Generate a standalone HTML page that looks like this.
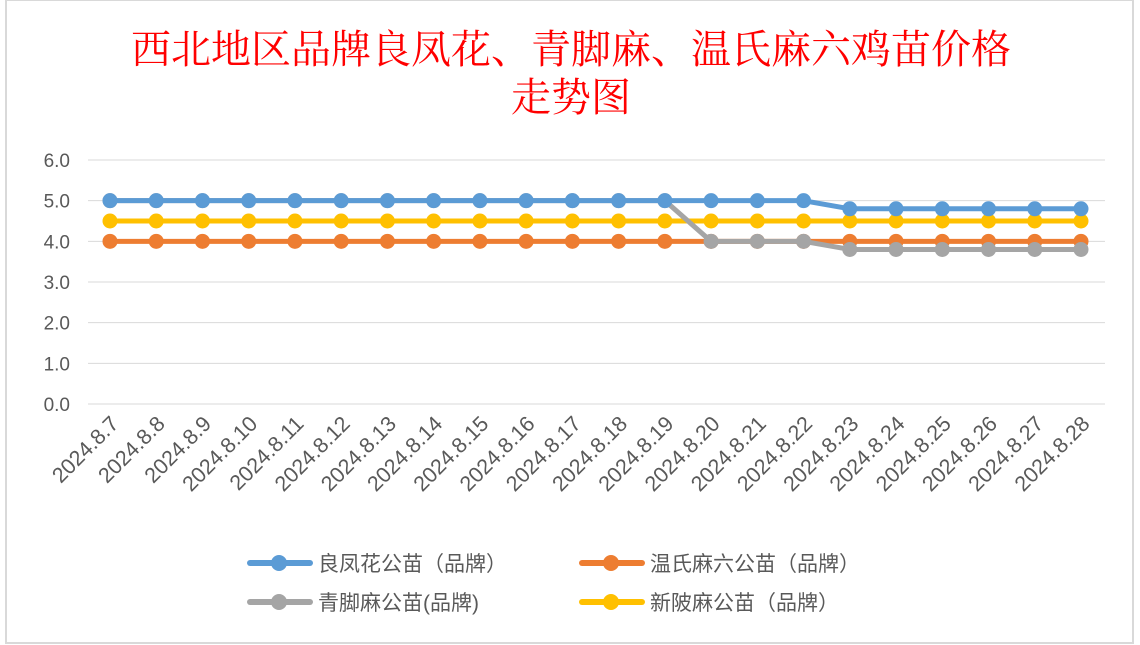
<!DOCTYPE html>
<html><head><meta charset="utf-8"><style>
body{margin:0;background:#fff;width:1140px;height:645px;overflow:hidden}
svg{display:block}
</style></head><body>
<svg width="1140" height="645" font-family="'Liberation Sans','Noto Sans CJK SC',sans-serif">
<rect x="6" y="0" width="1127" height="643" fill="#fff" stroke="#d9d9d9" stroke-width="2"/>
<text x="571" y="63" text-anchor="middle" font-size="40" fill="#ff0000" font-family="'Liberation Serif','Noto Serif CJK SC',serif">西北地区品牌良凤花、青脚麻、温氏麻六鸡苗价格</text>
<text x="571" y="111" text-anchor="middle" font-size="40" fill="#ff0000" font-family="'Liberation Serif','Noto Serif CJK SC',serif">走势图</text>
<g id="grid"></g><g id="xl"></g><g id="series"></g>
<g font-size="21" fill="#595959">
<g><line x1="250" y1="563" x2="310" y2="563" stroke="#5B9BD5" stroke-width="6" stroke-linecap="round"/><circle cx="279" cy="563" r="8" fill="#5B9BD5"/><text x="318" y="571">良凤花公苗（品牌）</text></g>
<g><line x1="582" y1="563" x2="642" y2="563" stroke="#ED7D31" stroke-width="6" stroke-linecap="round"/><circle cx="611" cy="563" r="8" fill="#ED7D31"/><text x="650" y="571">温氏麻六公苗（品牌）</text></g>
<g><line x1="250" y1="602" x2="310" y2="602" stroke="#A5A5A5" stroke-width="6" stroke-linecap="round"/><circle cx="279" cy="602" r="8" fill="#A5A5A5"/><text x="318" y="610">青脚麻公苗(品牌)</text></g>
<g><line x1="582" y1="602" x2="642" y2="602" stroke="#FFC000" stroke-width="6" stroke-linecap="round"/><circle cx="611" cy="602" r="8" fill="#FFC000"/><text x="650" y="610">新陂麻公苗（品牌）</text></g>
</g>
</svg>
<script>
const categories=["2024.8.7","2024.8.8","2024.8.9","2024.8.10","2024.8.11","2024.8.12","2024.8.13","2024.8.14","2024.8.15","2024.8.16","2024.8.17","2024.8.18","2024.8.19","2024.8.20","2024.8.21","2024.8.22","2024.8.23","2024.8.24","2024.8.25","2024.8.26","2024.8.27","2024.8.28"];
const yTicks=[0,1,2,3,4,5,6];
const seriesNames=["新陂麻公苗（品牌）","温氏麻六公苗（品牌）","青脚麻公苗(品牌)","良凤花公苗（品牌）"];
const liangfenghua=[5,5,5,5,5,5,5,5,5,5,5,5,5,5,5,5,4.8,4.8,4.8,4.8,4.8,4.8];
const wenshi=[4,4,4,4,4,4,4,4,4,4,4,4,4,4,4,4,4,4,4,4,4,4];
const qingjiaoma=[5,5,5,5,5,5,5,5,5,5,5,5,5,4,4,4,3.8,3.8,3.8,3.8,3.8,3.8];
const xinpima=[4.5,4.5,4.5,4.5,4.5,4.5,4.5,4.5,4.5,4.5,4.5,4.5,4.5,4.5,4.5,4.5,4.5,4.5,4.5,4.5,4.5,4.5];
const NS="http://www.w3.org/2000/svg";
const x0=110,x1=1081,yTop=160,yBot=404,yMax=6;
const xs=i=>x0+(x1-x0)*i/(categories.length-1);
const ys=v=>yBot-(yBot-yTop)*v/yMax;
function mk(t,a,p){const e=document.createElementNS(NS,t);for(const k in a)e.setAttribute(k,a[k]);p.appendChild(e);return e;}
const grid=document.getElementById('grid');
yTicks.forEach(v=>{
 const l=mk('line',{x1:88,x2:1105,y1:ys(v),y2:ys(v),stroke:'#d9d9d9','stroke-width':1},grid);
 
 
 const t=mk('text',{x:70,y:ys(v)+7,'text-anchor':'end','font-size':19,fill:'#595959'},grid);
 t.textContent=v.toFixed(1);
 
 
});
const xl=document.getElementById('xl');
categories.forEach((c,i)=>{
 const x=xs(i)+10,y=425;
 const t=mk('text',{x:x,y:y,'text-anchor':'end','font-size':21.5,fill:'#595959',transform:`rotate(-45 ${x} ${y})`},xl);
 t.textContent=c;
 
 
});
const sg=document.getElementById('series');
[[xinpima,'#FFC000','series-xinpima'],[wenshi,'#ED7D31','series-wenshi'],[qingjiaoma,'#A5A5A5','series-qingjiaoma'],[liangfenghua,'#5B9BD5','series-liangfenghua']].forEach(([d,col,name])=>{
 const g=mk('g',{},sg);
 
 
 const pl=mk('polyline',{points:d.map((v,i)=>xs(i)+','+ys(v)).join(' '),fill:'none',stroke:col,'stroke-width':5,'stroke-linejoin':'round'},g);
 
 
 d.forEach((v,i)=>{
  const c=mk('circle',{cx:xs(i),cy:ys(v),r:7.5,fill:col},g);
  
  
 });
});
</script>
</body></html>
